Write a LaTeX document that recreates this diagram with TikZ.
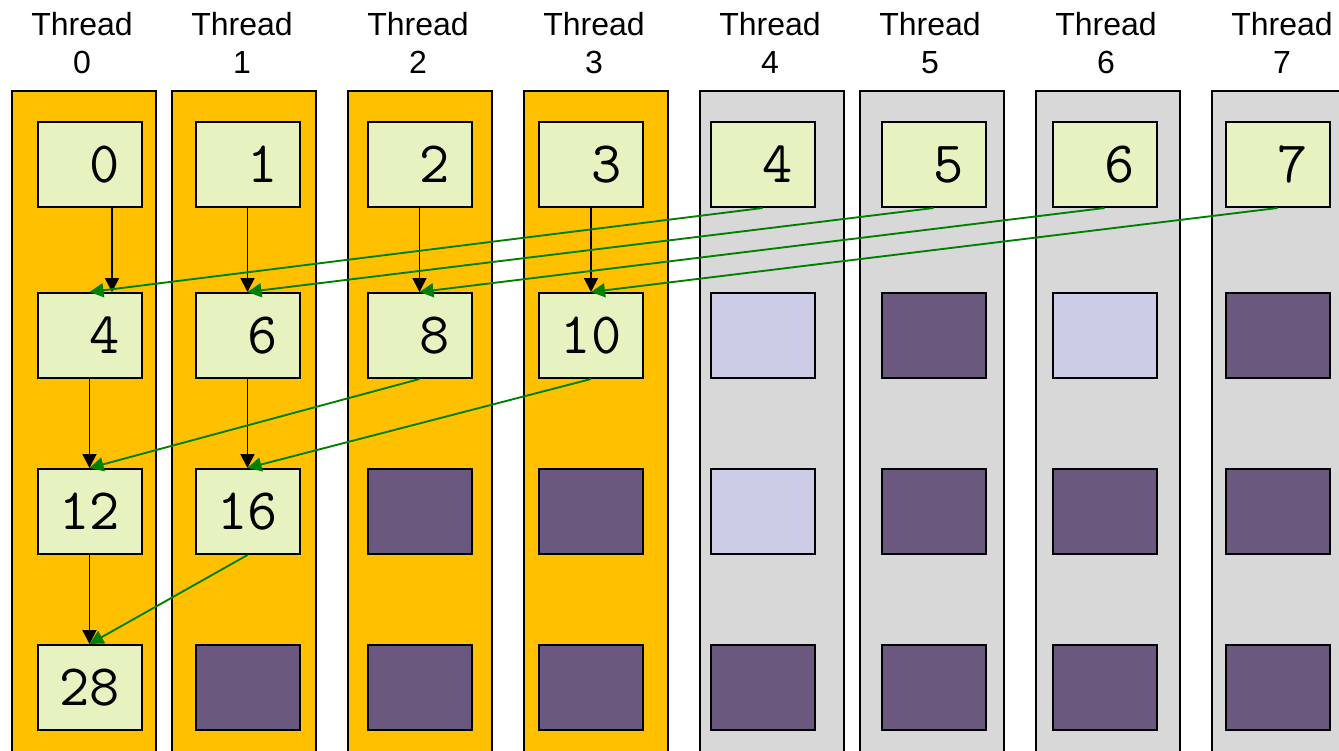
\documentclass[tikz,border=0pt]{standalone}
\usepackage{fontspec}
\setmainfont{Liberation Sans}
\usetikzlibrary{arrows.meta,calc}
\definecolor{colorange}{HTML}{FFC000}
\definecolor{colgrey}{HTML}{D8D8D8}
\definecolor{boxgreen}{HTML}{E6F2C0}
\definecolor{boxpurple}{HTML}{6B587E}
\definecolor{boxlav}{HTML}{CCCCE6}
\definecolor{arrgreen}{HTML}{008000}
\begin{document}
\begin{tikzpicture}[x=0.75pt,y=-0.75pt,
  colbox/.style={draw=black,line width=1.5pt,minimum width=108pt,minimum height=502.5pt,anchor=north west,inner sep=0pt},
  cell/.style={draw=black,line width=1.5pt,minimum width=78pt,minimum height=63.75pt,inner sep=0pt,font=\ttfamily\fontsize{44}{44}\selectfont},
  val/.style={cell,fill=boxgreen},
  pcell/.style={cell,fill=boxpurple},
  lcell/.style={cell,fill=boxlav},
  thr/.style={font=\fontsize{24}{28}\selectfont,anchor=base,inner sep=0pt},
  blk/.style={-{Triangle[length=10.5pt,width=10.5pt]},line width=1.4pt,black},
  grn/.style={-{Triangle[length=10.5pt,width=10.5pt]},line width=1.4pt,arrgreen}]
\useasboundingbox (0,0) rectangle (1339,750);
\clip (0,0) rectangle (1339,750);
% columns
\foreach \c/\x/\f in {0/11/colorange,1/171/colorange,2/347/colorange,3/523/colorange,4/699/colgrey,5/859/colgrey,6/1035/colgrey,7/1211/colgrey}{
  \node[colbox,fill=\f] (col\c) at (\x,90) {};
  \node[thr] (th\c) at ($(\x,35)+(71,0)$) {Thread};
  \node[thr] (tn\c) at ($(\x,73)+(71,0)$) {\c};
}
% row 0
\foreach \c/\x in {0/89.5,1/247.5,2/419.5,3/591,4/762.5,5/933.5,6/1104.5,7/1277.5}
  \node[val] (r0c\c) at (\x,164.5) {\phantom{0}\c};
% row 1
\node[val] (r1c0) at (89.5,335.5) {\phantom{0}4};
\node[val] (r1c1) at (247.5,335.5) {\phantom{0}6};
\node[val] (r1c2) at (419.5,335.5) {\phantom{0}8};
\node[val] (r1c3) at (591,335.5) {10};
\node[lcell] (r1c4) at (762.5,335.5) {};
\node[pcell] (r1c5) at (933.5,335.5) {};
\node[lcell] (r1c6) at (1104.5,335.5) {};
\node[pcell] (r1c7) at (1277.5,335.5) {};
% row 2
\node[val] (r2c0) at (89.5,511.5) {12};
\node[val] (r2c1) at (247.5,511.5) {16};
\node[pcell] (r2c2) at (419.5,511.5) {};
\node[pcell] (r2c3) at (591,511.5) {};
\node[lcell] (r2c4) at (762.5,511.5) {};
\node[pcell] (r2c5) at (933.5,511.5) {};
\node[pcell] (r2c6) at (1104.5,511.5) {};
\node[pcell] (r2c7) at (1277.5,511.5) {};
% row 3
\node[val] (r3c0) at (89.5,687.5) {28};
\foreach \c/\x in {1/247.5,2/419.5,3/591,4/762.5,5/933.5,6/1104.5,7/1277.5}
  \node[pcell] (r3c\c) at (\x,687.5) {};
% black arrows
\draw[blk] ($(r0c0.south)+(22.5,0)$) -- ($(r1c0.north)+(22.5,0)$);
\draw[blk] (r0c1.south) -- (r1c1.north);
\draw[blk] (r0c2.south) -- (r1c2.north);
\draw[blk] (r0c3.south) -- (r1c3.north);
\draw[blk] (r1c0.south) -- (r2c0.north);
\draw[blk] (r1c1.south) -- (r2c1.north);
\draw[blk] (r2c0.south) -- (r3c0.north);
% green arrows
\draw[grn] (r0c4.south) -- (r1c0.north);
\draw[grn] (r0c5.south) -- (r1c1.north);
\draw[grn] (r0c6.south) -- (r1c2.north);
\draw[grn] (r0c7.south) -- (r1c3.north);
\draw[grn] (r1c2.south) -- (r2c0.north);
\draw[grn] (r1c3.south) -- (r2c1.north);
\draw[grn] (r2c1.south) -- (r3c0.north);
\end{tikzpicture}
\end{document}
